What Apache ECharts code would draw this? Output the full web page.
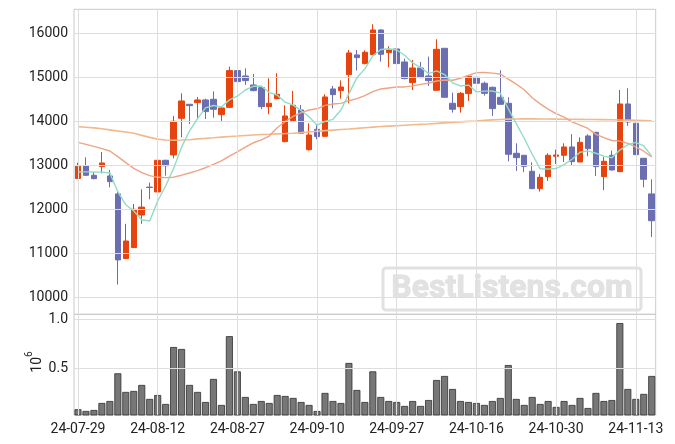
<!DOCTYPE html>
<html><head><meta charset="utf-8">
<script src="https://cdn.jsdelivr.net/npm/echarts@6/dist/echarts.min.js"></script>
<style>html,body{margin:0;padding:0;background:#fff}#c{width:675px;height:444px}</style>
</head><body><div id="c"></div>
<script>
const dates = ['24-07-29','24-07-30','24-07-31','24-08-01','24-08-02','24-08-05','24-08-06','24-08-07','24-08-08','24-08-09',
'24-08-12','24-08-13','24-08-14','24-08-16','24-08-19','24-08-20','24-08-21','24-08-22','24-08-23','24-08-26',
'24-08-27','24-08-28','24-08-29','24-08-30','24-09-02','24-09-03','24-09-04','24-09-05','24-09-06','24-09-09',
'24-09-10','24-09-11','24-09-12','24-09-13','24-09-19','24-09-20','24-09-23','24-09-24','24-09-25','24-09-26',
'24-09-27','24-09-30','24-10-02','24-10-04','24-10-07','24-10-08','24-10-10','24-10-11','24-10-14','24-10-15',
'24-10-16','24-10-17','24-10-18','24-10-21','24-10-22','24-10-23','24-10-24','24-10-25','24-10-28','24-10-29',
'24-10-30','24-10-31','24-11-01','24-11-04','24-11-05','24-11-06','24-11-07','24-11-08','24-11-11','24-11-12',
'24-11-13','24-11-14','24-11-15'];
const opens = [12700,12985,12773,12970,12758,12350,10880,11130,11870,12505,
12394,13114,13235,14068,14386,14424,14485,14500,14152,14318,
15152,15030,14826,14765,14333,14515,13538,14015,14258,13356,
13818,13659,14735,14697,15061,15508,15311,15515,16076,15561,
15644,15348,14879,15212,15030,14705,15659,14409,14333,14629,
15000,14864,14773,14545,14409,13273,13227,12864,12470,12742,
13205,13227,13417,13076,13667,13750,12742,13227,12856,14394,
13955,13159,12350];
const closes = [12980,12773,12697,13053,12629,10850,11280,12000,12050,12495,
13114,12990,14000,14462,14356,14485,14220,14273,14303,15152,
14902,14924,14697,14333,14409,14614,14121,14364,13727,13689,
13652,14553,14606,14780,15553,15447,15568,16076,15523,15621,
15311,14970,15212,14992,14924,15636,14545,14273,14636,15023,
14864,14636,14288,14386,13250,13174,12977,12470,12727,13227,
13235,13417,13083,13523,13379,12970,13091,12894,14394,13985,
13242,12682,11740];
const lows = [12690,12758,12682,12818,12500,10290,10870,11120,11670,12227,
12379,12765,13159,13636,13940,14045,14053,14080,14008,14300,
14697,14826,14682,14273,14159,14500,13523,14010,13712,13333,
13591,13652,14295,14515,14409,15152,15295,15510,15356,15227,
15227,14955,14712,14985,14803,14700,14540,14197,14197,14462,
14765,14583,14121,14380,13091,12871,12845,12455,12402,12644,
13030,13075,12992,13070,13205,12758,12435,12879,12850,13895,
13235,12500,11370];
const highs = [13060,13182,12848,13303,12894,12390,11670,12120,12455,12606,
13136,13125,14121,14636,14390,14550,14515,14680,14318,15242,
15409,15205,15076,14773,14977,15091,14364,14689,14371,13955,
13939,14614,14803,14930,15621,15621,15614,16205,16091,15705,
15652,15424,15394,15348,15470,15864,15665,14652,14667,15053,
15053,14902,14788,15160,14545,13500,13235,13068,12803,13273,
13355,13500,13708,13636,13705,13755,13190,13333,14712,14750,
13965,13165,12682];
const ma5 = [12855,12850,12848,12846,12826,12400,12102,11962,11762,11735,
12188,12530,12930,13412,13784,14059,14305,14359,14327,14487,
14570,14711,14796,14802,14653,14595,14435,14368,14247,14103,
13911,13997,14045,14256,14629,14988,15191,15485,15633,15647,
15620,15500,15327,15221,15082,15147,15062,14874,14803,14823,
14668,14686,14689,14639,14285,13947,13615,13251,12920,12915,
12927,13015,13138,13297,13327,13274,13209,13171,13346,13467,
13521,13439,13209];
const ma20 = [13522,13477,13431,13378,13325,13196,13060,12931,12833,12764,
12727,12719,12730,12775,12825,12880,12945,13020,13100,13208,
13304,13412,13512,13576,13665,13853,13995,14113,14197,14257,
14284,14362,14392,14408,14468,14516,14583,14674,14735,14758,
14778,14781,14806,14839,14865,14916,14937,14933,14978,15045,
15106,15110,15094,15074,14959,14845,14716,14536,14396,14276,
14172,14095,13988,13915,13837,13704,13631,13563,13550,13499,
13417,13320,13192];
const ma60 = [13879,13865,13850,13830,13805,13780,13755,13727,13680,13635,
13595,13575,13570,13575,13582,13600,13612,13625,13640,13655,
13665,13677,13689,13700,13707,13715,13722,13730,13742,13757,
13772,13787,13800,13813,13826,13840,13855,13868,13880,13890,
13900,13910,13920,13930,13940,13952,13965,13976,13987,13998,
14008,14020,14032,14042,14050,14053,14054,14054,14053,14052,
14050,14048,14046,14044,14042,14040,14037,14034,14030,14026,
14022,14018,14012];
const volumes = [84000,67000,77000,148000,168000,449000,260000,270000,331000,189000,
229000,138000,716000,696000,331000,260000,158000,392000,128000,826000,
469000,209000,138000,168000,148000,229000,219000,199000,158000,128000,
67000,250000,168000,148000,554000,280000,158000,469000,209000,168000,
158000,118000,168000,118000,178000,381000,422000,290000,168000,158000,
148000,128000,168000,199000,533000,189000,128000,209000,138000,168000,
108000,168000,128000,199000,97000,250000,168000,178000,959000,290000,
189000,240000,422000];
const priceTicks = [10000,11000,12000,13000,14000,15000,16000];
const volumeTicks = [500000,1000000];
const dateTicks = ['24-07-29','24-08-12','24-08-27','24-09-10','24-09-27','24-10-16','24-10-30','24-11-13'];

const UP = '#e5440f', DOWN = '#6b6fb2';
const GRID = '#dedede', BORDER = '#cacaca';
const FONT = 'Roboto';

function gridLines(xi, yi, ticks) {
  return {
    type: 'line', xAxisIndex: xi, yAxisIndex: yi, data: [], z: 1, silent: true,
    markLine: {
      silent: true, symbol: ['none','none'], label: {show: false}, animation: false,
      lineStyle: {color: GRID, width: 1, type: 'solid'},
      emphasis: {disabled: true},
      data: ticks.map(v => ({yAxis: v})).concat(dateTicks.map(d => ({xAxis: d})))
    }
  };
}

const chart = echarts.init(document.getElementById('c'), null, {renderer: 'canvas'});
chart.setOption({
  animation: false,
  backgroundColor: '#fff',
  grid: [
    {left: 74, right: 19.3, top: 9.3, height: 305, show: true, borderColor: BORDER, borderWidth: 1, backgroundColor: 'transparent'},
    {left: 74, right: 19.3, top: 314.3, height: 100.7, show: true, borderColor: BORDER, borderWidth: 1, backgroundColor: 'transparent'}
  ],
  xAxis: [
    {type: 'category', gridIndex: 0, data: dates, boundaryGap: true,
     axisLine: {show: false}, axisTick: {show: false}, axisLabel: {show: false}, splitLine: {show: false}},
    {type: 'category', gridIndex: 1, data: dates, boundaryGap: true,
     axisLine: {show: false}, axisTick: {show: false}, splitLine: {show: false},
     axisLabel: {interval: (i, v) => dateTicks.indexOf(v) >= 0, margin: 7, fontFamily: FONT, fontSize: 14, color: '#222'}}
  ],
  yAxis: [
    {type: 'value', gridIndex: 0, min: 9614, max: 16545,
     axisLine: {show: false}, axisTick: {show: false}, splitLine: {show: false},
     axisLabel: {customValues: priceTicks, margin: 6, fontFamily: FONT, fontSize: 14, color: '#222',
                 formatter: v => String(Math.round(v))}},
    {type: 'value', gridIndex: 1, min: 26000, max: 1048000,
     axisLine: {show: false}, axisTick: {show: false}, splitLine: {show: false},
     axisLabel: {customValues: volumeTicks, margin: 6, fontFamily: FONT, fontSize: 14, color: '#222',
                 formatter: v => (v / 1e6).toFixed(1)}}
  ],
  series: [
    gridLines(0, 0, priceTicks),
    gridLines(1, 1, volumeTicks),
    {type: 'candlestick', xAxisIndex: 0, yAxisIndex: 0, z: 3, barWidth: 6,
     data: dates.map((d, i) => [opens[i], closes[i], lows[i], highs[i]]),
     itemStyle: {color: UP, color0: DOWN, borderColor: UP, borderColor0: DOWN, borderWidth: 1}},
    {type: 'line', name: 'MA60', xAxisIndex: 0, yAxisIndex: 0, z: 4, data: ma60, symbol: 'none',
     lineStyle: {color: '#f1b98c', width: 1.6}},
    {type: 'line', name: 'MA20', xAxisIndex: 0, yAxisIndex: 0, z: 4, data: ma20, symbol: 'none',
     lineStyle: {color: '#eea484', width: 1.4}},
    {type: 'line', name: 'MA5', xAxisIndex: 0, yAxisIndex: 0, z: 5, data: ma5, symbol: 'none',
     lineStyle: {color: '#93dcc4', width: 1.4}},
    {type: 'bar', xAxisIndex: 1, yAxisIndex: 1, z: 3, data: volumes, barWidth: 7,
     itemStyle: {color: '#777777', borderColor: '#303030', borderWidth: 0.8}}
  ],
  graphic: [
    {type: 'text', x: 34, y: 362, rotation: Math.PI / 2, silent: true,
     style: {text: '{a|10}{b|6}', align: 'center', verticalAlign: 'middle',
             rich: {
               a: {fontFamily: FONT, fontSize: 14, fill: '#222', lineHeight: 20, verticalAlign: 'bottom'},
               b: {fontFamily: FONT, fontSize: 10, fill: '#222', lineHeight: 12, verticalAlign: 'top'}
             }}},
    {type: 'group', z: 50, silent: true, children: [
      {type: 'rect', shape: {x: 383, y: 268, width: 258, height: 42, r: 3},
       style: {fill: 'rgba(255,255,255,0)', stroke: '#e1e1e1', lineWidth: 3}},
      {type: 'text', x: 512, y: 289,
       style: {text: 'BestListens.com', font: 'bold 32px Roboto', fill: '#e2e2e2', stroke: '#dadada', lineWidth: 0.8,
               align: 'center', verticalAlign: 'middle'}}
    ]}
  ]
});
</script>
</body></html>
